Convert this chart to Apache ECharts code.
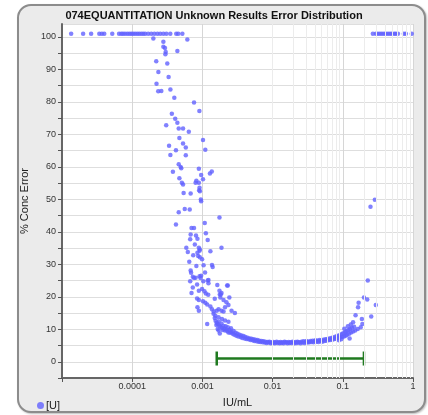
<!DOCTYPE html>
<html lang="en">
<head>
	<meta charset="UTF-8">
	<title>Error Distribution</title>
	<style type="text/css">
		html, body { margin: 0; padding: 0; background: #fff; }
		.wrap { position: relative; width: 428px; height: 415px; }
		.panel {
			position: absolute; left: 17px; top: 4px; width: 405px; height: 405px;
			border: 2px solid #8c8c8c; border-radius: 14px; background: #ebebeb;
			box-shadow: 1px 1px 2px #bbb;
		}
		.box { position: absolute; left: 0; top: 0; width: 428px; height: 415px; }
	</style>
</head>
<body>
	<div class="wrap">
		<div class="panel"></div>
		<div class="box"></div>
	</div>
	<script type="text/javascript" src="https://cdn.jsdelivr.net/npm/echarts@6/dist/echarts.min.js"></script>
	<script type="text/javascript">
		// over-range results, plotted at the top
		var overLowConc = [1.35e-5, 2.0e-5, 2.6e-5, 3.4e-5, 3.7e-5, 4.0e-5, 5.2e-5, 6.5e-5, 7.0e-5, 7.4e-5, 7.9e-5, 8.5e-5, 9.1e-5, 9.7e-5,
			1.03e-4, 1.1e-4, 1.18e-4, 1.26e-4, 1.35e-4, 1.44e-4, 1.53e-4, 1.69e-4, 1.87e-4, 2.07e-4, 2.29e-4, 2.51e-4,
			2.78e-4, 3.07e-4, 3.49e-4, 4.24e-4, 4.53e-4, 5.18e-4];
		var overHighConc = [0.268, 0.296, 0.316, 0.338, 0.361, 0.386, 0.412, 0.44, 0.47, 0.5, 0.54, 0.57, 0.61, 0.74, 0.79, 0.96];
		var overErr = 101;

		// steep part of the curve [conc, % error]
		var dropPoints = [
			[2.0e-4, 99.5], [6.1e-4, 99.2], [2.78e-4, 98.5], [2.78e-4, 97], [2.93e-4, 96.6], [3.0e-4, 95.4], [2.97e-4, 94.7],
			[4.4e-4, 95.7], [2.2e-4, 92.5], [3.16e-4, 91.8], [2.36e-4, 89.2], [3.3e-4, 87.7], [2.22e-4, 85.6], [2.35e-4, 83.3],
			[2.6e-4, 83.4], [3.5e-4, 83.8], [3.98e-4, 81.3], [7.6e-4, 79.8], [9.06e-4, 77.2], [3.67e-4, 76.4], [4.1e-4, 74.8],
			[4.4e-4, 73.6], [3.05e-4, 72.8], [4.6e-4, 71.8], [5.3e-4, 71.8], [6.4e-4, 70.8], [4.7e-4, 68.9], [1.02e-3, 68.3],
			[5.3e-4, 67.2], [5.8e-4, 66], [3.35e-4, 66.5], [4.2e-4, 65.1], [1.1e-3, 65.3], [3.5e-4, 63.7], [5.8e-4, 63.6],
			[4.6e-4, 60.8], [4.9e-4, 60], [5.0e-4, 59.6], [8.9e-4, 59.4], [1.36e-3, 58.6], [1.28e-3, 58], [9.6e-4, 57.5],
			[3.8e-4, 58.5], [4.7e-4, 56.5], [8.2e-4, 55.7], [8.9e-4, 55.1], [8.0e-4, 55.1], [1.02e-3, 56.2], [5.1e-4, 55.1],
			[5.3e-4, 54.6], [9.1e-4, 53.6], [9.0e-4, 52.8], [5.4e-4, 52], [6.8e-4, 51.8], [9.2e-4, 52.5], [9.5e-4, 50],
			[9.6e-4, 49.4], [5.6e-4, 47], [6.6e-4, 46.9], [4.6e-4, 46], [1.75e-3, 44.4], [4.2e-4, 42.3], [1.08e-3, 42.7],
			[7.0e-4, 41.2], [7.6e-4, 41.2], [1.12e-3, 39.6], [6.8e-4, 39.2], [8.1e-4, 38.9], [6.7e-4, 37.7], [8.5e-4, 37.9],
			[1.19e-3, 37.5], [7.8e-4, 36.1], [5.9e-4, 35.1], [6.2e-4, 33.8], [8.9e-4, 35.1], [9.1e-4, 34.2], [9.2e-4, 34.6],
			[8.5e-4, 33.6], [1.3e-3, 34], [1.87e-3, 35.1], [7.4e-4, 32.8], [8.7e-4, 32.6], [9.2e-4, 32.2], [9.9e-4, 31.6],
			[6.5e-4, 30.8], [8.2e-4, 29.5], [1.04e-3, 29.7], [1.37e-3, 29.8], [1.4e-3, 29.2], [6.8e-4, 28.1], [9.1e-4, 26.3],
			[9.6e-4, 26.5], [8.0e-4, 25.9], [7.6e-4, 25.8], [1.09e-3, 27.5], [1.22e-3, 25.2], [2.25e-3, 23.5], [2.42e-3, 19.8],
			[1.63e-3, 23.6], [1.77e-3, 20.7], [1.83e-3, 20.7], [1.5e-3, 19.4], [6.9e-4, 27.4], [7.3e-4, 26.2], [6.7e-4, 24.8],
			[9.4e-4, 25.8], [1.03e-3, 24.8], [1.19e-3, 25], [1.22e-3, 24.2], [8.4e-4, 23.8], [7.3e-4, 22.9], [8.9e-4, 21.9],
			[9.9e-4, 22.4], [7.0e-4, 21.2], [1.07e-3, 21.7], [1.12e-3, 21], [1.21e-3, 20.6], [2.3e-3, 23.5], [1.75e-3, 21.9],
			[1.87e-3, 21.2], [8.4e-4, 19.5], [8.9e-4, 19], [1.02e-3, 18.6], [1.1e-3, 18.2], [1.17e-3, 17.6], [1.8e-3, 19.8],
			[2.0e-3, 19], [2.2e-3, 18.3], [2.35e-3, 17.5], [8.5e-4, 16.8], [8.9e-4, 15.7], [1.3e-3, 17], [1.37e-3, 16.2],
			[1.45e-3, 15.5], [1.6e-3, 15.7], [1.7e-3, 16.2], [1.87e-3, 15.7], [2.0e-3, 15.5], [2.1e-3, 16.8], [2.6e-3, 15.7],
			[2.9e-3, 15], [1.53e-3, 14.2], [1.7e-3, 13.7], [1.9e-3, 13.2], [2.1e-3, 12.7], [2.35e-3, 12.3], [1.17e-3, 11.6],
			[1.58e-3, 11.3], [1.65e-3, 10.1], [1.7e-3, 9.6], [1.77e-3, 8.7]
		];

		// bottom of the U
		var bandPoints = [
			[1.44e-3, 14.8], [1.5e-3, 13.5], [1.54e-3, 12.6], [1.6e-3, 12.0], [1.65e-3, 11.6], [1.7e-3, 12.4], [1.75e-3, 11.2],
			[1.8e-3, 10.8], [1.87e-3, 11.8], [1.9e-3, 10.4], [1.95e-3, 9.8], [2.0e-3, 11.0], [2.05e-3, 10.2], [2.1e-3, 9.6],
			[2.14e-3, 10.9], [2.2e-3, 9.9], [2.28e-3, 9.4], [2.3e-3, 10.6], [2.35e-3, 9.0], [2.44e-3, 9.8], [2.5e-3, 8.9],
			[2.55e-3, 10.3], [2.6e-3, 9.2], [2.7e-3, 8.6], [2.78e-3, 9.5], [2.85e-3, 8.3], [2.97e-3, 8.9], [3.05e-3, 8.0],
			[3.16e-3, 8.6], [3.25e-3, 7.8], [3.38e-3, 8.3], [3.5e-3, 7.6], [3.6e-3, 8.1], [3.7e-3, 7.3], [3.85e-3, 7.9],
			[4.0e-3, 7.2], [4.1e-3, 7.6], [4.25e-3, 7.0], [4.4e-3, 7.4], [4.55e-3, 6.9], [4.7e-3, 7.2], [4.85e-3, 6.7],
			[5.0e-3, 7.1], [5.2e-3, 6.6], [5.35e-3, 6.9], [5.5e-3, 6.4], [5.7e-3, 6.8], [5.9e-3, 6.3], [6.1e-3, 6.7],
			[6.3e-3, 6.2], [6.5e-3, 6.5], [6.7e-3, 6.1], [6.95e-3, 6.4], [7.2e-3, 6.0], [7.4e-3, 6.3], [7.7e-3, 5.9],
			[7.9e-3, 6.2], [8.2e-3, 5.8], [8.5e-3, 6.1], [8.8e-3, 5.9], [9.0e-3, 6.2], [9.4e-3, 5.7], [9.7e-3, 6.0],
			[1.0e-2, 5.8], [1.03e-2, 6.1], [1.07e-2, 5.7], [1.1e-2, 5.9], [1.14e-2, 6.2], [1.18e-2, 5.8], [1.22e-2, 6.0],
			[1.26e-2, 5.7], [1.3e-2, 6.1], [1.34e-2, 5.8], [1.4e-2, 6.0], [1.43e-2, 5.7], [1.48e-2, 6.2], [1.53e-2, 5.9],
			[1.58e-2, 6.0], [1.63e-2, 5.7], [1.7e-2, 6.1], [1.74e-2, 5.8], [1.8e-2, 6.0], [1.86e-2, 5.8], [1.92e-2, 6.2],
			[1.98e-2, 5.9], [2.05e-2, 5.7], [2.12e-2, 6.1], [2.2e-2, 5.8], [2.26e-2, 6.2], [2.33e-2, 5.9], [2.41e-2, 6.0],
			[2.5e-2, 5.7], [2.58e-2, 6.2], [2.66e-2, 5.9], [2.75e-2, 6.3], [2.85e-2, 5.8], [2.94e-2, 6.1], [3.04e-2, 6.4],
			[3.14e-2, 5.9], [3.25e-2, 6.2], [3.35e-2, 6.0], [3.46e-2, 6.4], [3.58e-2, 6.1], [3.7e-2, 6.5], [3.82e-2, 6.0],
			[3.95e-2, 6.3], [4.07e-2, 6.6], [4.2e-2, 6.2], [4.35e-2, 6.5], [4.5e-2, 6.1], [4.64e-2, 6.7], [4.8e-2, 6.3],
			[4.95e-2, 6.6], [5.1e-2, 6.2], [5.28e-2, 6.8], [5.45e-2, 6.4], [5.64e-2, 6.9], [5.8e-2, 6.5], [6.02e-2, 7.0],
			[6.2e-2, 6.6], [6.43e-2, 7.2], [6.6e-2, 6.7], [6.86e-2, 7.3], [7.1e-2, 6.8], [7.3e-2, 7.5], [7.55e-2, 7.0],
			[7.8e-2, 7.7], [8.0e-2, 7.1], [8.3e-2, 7.9], [8.6e-2, 7.3], [8.9e-2, 8.2], [9.2e-2, 7.5], [9.5e-2, 8.5],
			[9.8e-2, 7.6], [0.101, 8.8], [0.104, 7.8], [0.108, 9.1], [0.11, 8.0], [0.113, 9.4], [0.115, 8.3], [0.12, 9.8],
			[0.123, 8.6], [0.127, 10.1], [0.131, 9.0], [0.135, 10.5], [0.14, 9.3], [0.145, 10.8], [0.15, 9.6],
			[0.105, 10.2], [0.118, 10.9], [0.13, 11.5], [0.14, 12.2], [0.125, 7.2], [0.095, 6.9], [0.088, 6.6]
		];

		// upper end of the curve
		var risePoints = [
			[0.286, 49.9], [0.248, 47.7], [0.227, 25], [0.2, 19.8], [0.223, 19.2], [0.168, 18.2], [0.165, 16.8],
			[0.295, 17.5], [0.152, 14.3], [0.187, 13.2], [0.254, 13.9], [0.19, 11.6], [0.18, 10.6], [0.163, 10.1]
		];

		// working range bar
		var rangeLow = 0.0016;
		var rangeHigh = 0.2;
		var rangeLevel = 1;

		var xTickLabels = { '0.0001': '0.0001', '0.001': '0.001', '0.01': '0.01', '0.1': '0.1', '1': '1' };

		var points = [];
		overLowConc.forEach(function (c) { points.push([c, overErr]); });
		dropPoints.forEach(function (p) { points.push(p); });
		bandPoints.forEach(function (p) { points.push(p); });
		risePoints.forEach(function (p) { points.push(p); });
		overHighConc.forEach(function (c) { points.push([c, overErr]); });

		// minor log grid lines 2..9 in every decade
		var minorLines = [];
		[1e-5, 1e-4, 1e-3, 1e-2, 1e-1].forEach(function (d) {
			for (var m = 2; m <= 9; m++) {
				minorLines.push({ xAxis: +(d * m).toPrecision(3) });
			}
		});

		var font = '"Liberation Sans", Arial, sans-serif';
		var myChart = echarts.init(document.querySelector('.box'));
		var option = {
			animation: false,
			backgroundColor: 'transparent',
			textStyle: { fontFamily: font },
			title: {
				text: '074EQUANTITATION Unknown Results Error Distribution',
				left: 'center',
				top: 5,
				textStyle: { fontSize: 11, fontWeight: 'bold', color: '#111', fontFamily: font }
			},
			legend: {
				left: 32,
				top: 395,
				icon: 'circle',
				itemWidth: 7,
				itemHeight: 7,
				itemGap: 4,
				data: ['[U]'],
				textStyle: { fontSize: 11, color: '#222', padding: [0, 0, 0, -3] }
			},
			grid: {
				left: 62, top: 24, right: 15, bottom: 37,
				show: true, backgroundColor: '#fff', borderWidth: 0
			},
			xAxis: {
				type: 'log',
				logBase: 10,
				min: 1e-5,
				max: 1,
				name: 'IU/mL',
				nameLocation: 'middle',
				nameGap: 19,
				nameTextStyle: { fontSize: 11, color: '#222' },
				axisLine: { onZero: false, lineStyle: { color: '#666', width: 2 } },
				axisTick: { show: true, length: 4, lineStyle: { color: '#555' } },
				axisLabel: {
					fontSize: 9, color: '#333', margin: 4,
					formatter: function (v) {
						var k = String(+(+v).toPrecision(1));
						return xTickLabels[k] || '';
					}
				},
				splitLine: { show: true, lineStyle: { color: '#d6d6d6', width: 1 } }
			},
			yAxis: {
				type: 'value',
				min: -5,
				max: 104,
				interval: 5,
				name: '% Conc Error',
				nameLocation: 'middle',
				nameGap: 32,
				nameTextStyle: { fontSize: 11, color: '#222' },
				axisLine: { show: true, onZero: false, lineStyle: { color: '#666', width: 2 } },
				axisTick: { show: true, length: 4, lineStyle: { color: '#555' } },
				axisLabel: {
					fontSize: 9, color: '#333', margin: 6, showMaxLabel: false,
					formatter: function (v) { return (v >= 0 && v % 10 === 0) ? v : ''; }
				},
				splitLine: { show: true, lineStyle: { color: '#dedede', width: 1 } }
			},
			series: [
				{
					name: 'grid',
					type: 'scatter',
					data: [],
					silent: true,
					markLine: {
						silent: true,
						symbol: 'none',
						label: { show: false },
						lineStyle: { color: '#ececec', width: 1, type: 'solid' },
						data: minorLines
					}
				},
				{
					name: 'range',
					type: 'custom',
					silent: true,
					data: [[rangeLow, rangeHigh, rangeLevel]],
					encode: { x: [0, 1], y: 2 },
					renderItem: function (params, api) {
						var p1 = api.coord([api.value(0), api.value(2)]);
						var p2 = api.coord([api.value(1), api.value(2)]);
						var st = { stroke: '#1f7a1f', lineWidth: 2.5 };
						return {
							type: 'group',
							children: [
								{ type: 'line', shape: { x1: p1[0], y1: p1[1], x2: p2[0], y2: p2[1] }, style: st },
								{ type: 'line', shape: { x1: p1[0], y1: p1[1] - 7, x2: p1[0], y2: p1[1] + 7 }, style: st },
								{ type: 'line', shape: { x1: p2[0], y1: p2[1] - 7, x2: p2[0], y2: p2[1] + 7 }, style: st }
							]
						};
					}
				},
				{
					name: '[U]',
					type: 'scatter',
					symbol: 'circle',
					symbolSize: 4.5,
					itemStyle: { color: '#6262ff' },
					data: points
				}
			]
		};
		myChart.setOption(option);
	</script>
</body>
</html>
